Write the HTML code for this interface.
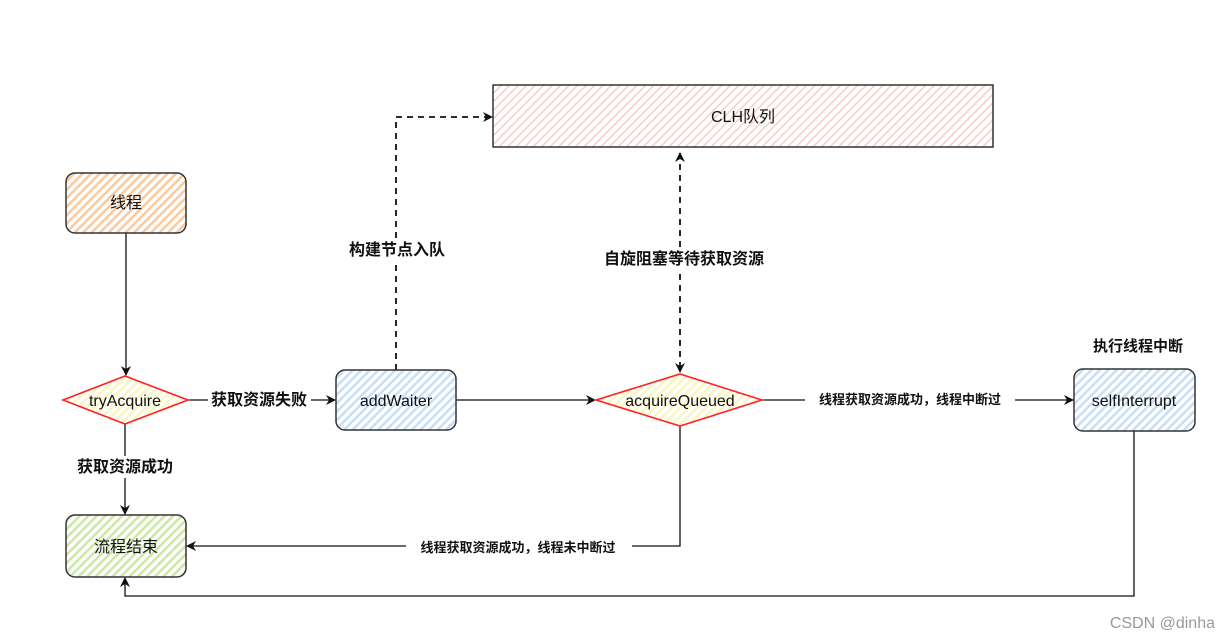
<!DOCTYPE html>
<html><head><meta charset="utf-8"><style>
html,body{margin:0;padding:0;background:#fff;}
svg{display:block;}
text{font-family:"Liberation Sans","Noto Sans CJK SC",sans-serif;}
</style></head><body>
<svg width="1231" height="639" viewBox="0 0 1231 639" xmlns="http://www.w3.org/2000/svg">
<defs>
<pattern id="hO" width="6" height="6" patternUnits="userSpaceOnUse" patternTransform="rotate(45)"><rect width="6" height="6" fill="#fff"/><rect width="2.5" height="6" fill="#fbc99b"/></pattern>
<pattern id="hB" width="6" height="6" patternUnits="userSpaceOnUse" patternTransform="rotate(45)"><rect width="6" height="6" fill="#fff"/><rect width="2.5" height="6" fill="#c6dff7"/></pattern>
<pattern id="hG" width="6" height="6" patternUnits="userSpaceOnUse" patternTransform="rotate(45)"><rect width="6" height="6" fill="#fff"/><rect width="2.5" height="6" fill="#cde8a6"/></pattern>
<pattern id="hY" width="6" height="6" patternUnits="userSpaceOnUse" patternTransform="rotate(45)"><rect width="6" height="6" fill="#fff"/><rect width="2.5" height="6" fill="#fbf5c0"/></pattern>
<pattern id="hR" width="6" height="6" patternUnits="userSpaceOnUse" patternTransform="rotate(45)"><rect width="6" height="6" fill="#fff"/><rect width="1.5" height="6" fill="#f9cccc"/></pattern>
<marker id="a" markerWidth="10" markerHeight="10" refX="9" refY="5" orient="auto" markerUnits="userSpaceOnUse"><path d="M0,0 L10,5 L0,10 L3,5 Z" fill="#111"/></marker>
<marker id="as" markerWidth="10" markerHeight="10" refX="1" refY="5" orient="auto" markerUnits="userSpaceOnUse"><path d="M10,0 L0,5 L10,10 L7,5 Z" fill="#111"/></marker>
</defs>

<!-- connectors -->
<g stroke="#111" stroke-width="1.3" fill="none">
<path d="M126 233 L126 375" marker-end="url(#a)"/>
<path d="M188 400 L335 400" marker-end="url(#a)"/>
<path d="M125 424 L125 514" marker-end="url(#a)"/>
<path d="M456 400 L595 400" marker-end="url(#a)"/>
<path d="M762 400 L1073 400" marker-end="url(#a)"/>
<path d="M680 426 L680 546 L187 546" marker-end="url(#a)"/>
<path d="M1134 431 L1134 596 L125 596 L125 578" marker-end="url(#a)"/>
<path d="M396 370 L396 117 L492 117" stroke-dasharray="6 5" stroke-width="1.8" marker-end="url(#a)"/>
<path d="M680 153 L680 372" stroke-dasharray="6 5" stroke-width="1.8" marker-start="url(#as)" marker-end="url(#a)"/>
</g>

<!-- nodes -->
<rect x="66" y="173" width="120" height="60" rx="9" fill="url(#hO)" stroke="#333" stroke-width="1.5"/>
<rect x="336" y="370" width="120" height="60" rx="9" fill="url(#hB)" stroke="#333" stroke-width="1.5"/>
<rect x="66" y="515" width="120" height="62" rx="9" fill="url(#hG)" stroke="#333" stroke-width="1.5"/>
<rect x="1074" y="369" width="121" height="62" rx="9" fill="url(#hB)" stroke="#333" stroke-width="1.5"/>
<rect x="493" y="85" width="500" height="62" fill="url(#hR)" stroke="#333" stroke-width="1.5"/>
<polygon points="63,400 125,376 188,400 125,424" fill="url(#hY)" stroke="#f22" stroke-width="1.6"/>
<polygon points="596,400 680,374 762,400 680,426" fill="url(#hY)" stroke="#f22" stroke-width="1.6"/>

<!-- node text -->
<g font-size="16" fill="#111" text-anchor="middle">
<text x="126" y="208">线程</text>
<text x="396" y="406">addWaiter</text>
<text x="126" y="552">流程结束</text>
<text x="1134" y="406">selfInterrupt</text>
<text x="743" y="122">CLH队列</text>
<text x="125" y="406">tryAcquire</text>
<text x="680" y="406">acquireQueued</text>
</g>

<!-- edge labels -->
<g font-weight="bold" fill="#111" text-anchor="middle">
<rect x="208" y="389" width="103" height="22" fill="#fff"/>
<text x="259" y="405" font-size="16">获取资源失败</text>
<rect x="74" y="456" width="103" height="22" fill="#fff"/>
<text x="125" y="472" font-size="16">获取资源成功</text>
<rect x="342" y="238" width="110" height="22" fill="#fff"/>
<text x="397" y="255" font-size="16">构建节点入队</text>
<rect x="594" y="247" width="180" height="22" fill="#fff"/>
<text x="684" y="264" font-size="16">自旋阻塞等待获取资源</text>
<text x="1138" y="351" font-size="15">执行线程中断</text>
<rect x="805" y="391" width="210" height="17" fill="#fff"/>
<text x="910" y="404" font-size="13">线程获取资源成功，线程中断过</text>
<rect x="406" y="539" width="226" height="17" fill="#fff"/>
<text x="518" y="552" font-size="13">线程获取资源成功，线程未中断过</text>
</g>

<text x="1215" y="628" font-size="16" fill="#999" text-anchor="end">CSDN @dinha</text>
</svg>
</body></html>
